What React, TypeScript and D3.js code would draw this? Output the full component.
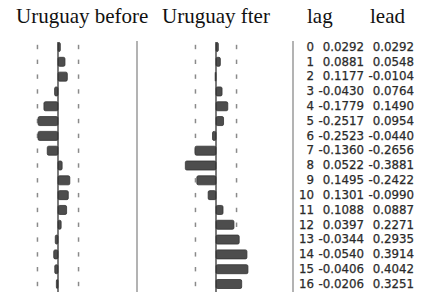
import React from 'react';
import * as d3 from 'd3';

// cross-correlation values
const lagIndex = [0, 1, 2, 3, 4, 5, 6, 7, 8, 9, 10, 11, 12, 13, 14, 15, 16];
const lagValues = [0.0292, 0.0881, 0.1177, -0.043, -0.1779, -0.2517, -0.2523, -0.136, 0.0522, 0.1495, 0.1301, 0.1088, 0.0397, -0.0344, -0.054, -0.0406, -0.0206];
const leadValues = [0.0292, 0.0548, -0.0104, 0.0764, 0.149, 0.0954, -0.044, -0.2656, -0.3881, -0.2422, -0.099, 0.0887, 0.2271, 0.2935, 0.3914, 0.4042, 0.3251];
const lagLabels = ['0.0292', '0.0881', '0.1177', '-0.0430', '-0.1779', '-0.2517', '-0.2523', '-0.1360', '0.0522', '0.1495', '0.1301', '0.1088', '0.0397', '-0.0344', '-0.0540', '-0.0406', '-0.0206'];
const leadLabels = ['0.0292', '0.0548', '-0.0104', '0.0764', '0.1490', '0.0954', '-0.0440', '-0.2656', '-0.3881', '-0.2422', '-0.0990', '0.0887', '0.2271', '0.2935', '0.3914', '0.4042', '0.3251'];
const headers = ['Uruguay before', 'Uruguay fter', 'lag', 'lead'];
const confBound = 0.26;

const W = 421;
const H = 292;

const App: React.FC = () => {
  // rows
  const y = d3.scalePoint<number>()
    .domain(lagIndex)
    .range([47, 284]);

  // one x scale per bar panel
  const xBefore = d3.scaleLinear().domain([-0.5, 0.5]).range([58 - 39.5, 58 + 39.5]);
  const xAfter = d3.scaleLinear().domain([-0.5, 0.5]).range([216 - 39.5, 216 + 39.5]);

  const barH = 9;
  const headerX = [16, 162, 307, 370];

  const panel = (x: d3.ScaleLinear<number, number>, values: number[], key: string) => (
    <g key={key}>
      {[-confBound, confBound].map((c) =>
        lagIndex.map((i) => (
          <line key={`${c}-${i}`} x1={x(c)} x2={x(c)} y1={y(i)! - 2.2} y2={y(i)! + 2.2}
            stroke="#8a8a8a" strokeWidth={1.5} />
        ))
      )}
      {values.map((v, i) => (
        <rect key={i}
          x={Math.min(x(0), x(v))}
          y={y(lagIndex[i])! - barH / 2}
          width={Math.abs(x(v) - x(0))}
          height={barH}
          rx={1.5}
          fill="#4d4d4d"
          stroke="#333"
          strokeWidth={0.8} />
      ))}
      <line x1={x(0)} x2={x(0)} y1={42} y2={H} stroke="#333" strokeWidth={1.3} />
    </g>
  );

  return (
    <div style={{ position: 'absolute', left: 0, top: 0 }}>
      <svg width={W} height={H} style={{ display: 'block', background: '#fff' }}>
        {headers.map((h, i) => (
          <text key={h} x={headerX[i]} y={22.5} fontFamily="'Liberation Serif', serif" fontSize={21} fill="#111">{h}</text>
        ))}

        {panel(xBefore, lagValues, 'before')}
        {panel(xAfter, leadValues, 'after')}

        <line x1={137} x2={137} y1={41} y2={H} stroke="#9a9a9a" strokeWidth={1.5} />
        <line x1={293} x2={293} y1={41} y2={H} stroke="#9a9a9a" strokeWidth={1.5} />

        <g fontFamily="'DejaVu Sans', sans-serif" fontSize={11.8} fill="#2a2a2a"
          stroke="#2a2a2a" strokeWidth={0.25} textAnchor="end">
          {lagIndex.map((i) => (
            <g key={i}>
              <text x={314} y={y(i)! + 3.8}>{i}</text>
              <text x={364} y={y(i)! + 3.8}>{lagLabels[i]}</text>
              <text x={414} y={y(i)! + 3.8}>{leadLabels[i]}</text>
            </g>
          ))}
        </g>
      </svg>
    </div>
  );
};

export default App;
